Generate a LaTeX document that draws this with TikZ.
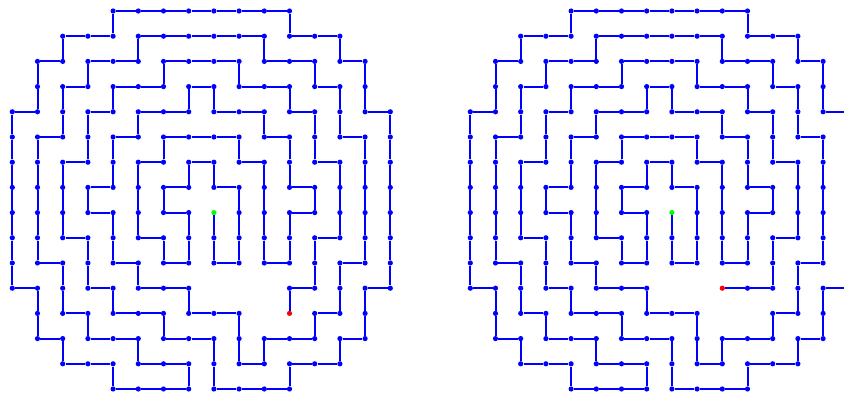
\documentclass[tikz,border=0pt]{standalone}
\begin{document}
\begin{tikzpicture}[x=1pt,y=-1pt,
  mdot/.style={circle,fill=blue,inner sep=0pt,minimum size=5.2pt},
  mstart/.style={circle,fill=green,inner sep=0pt,minimum size=5.2pt},
  mend/.style={circle,fill=red,inner sep=0pt,minimum size=5.2pt},
  medge/.style={blue,line width=2pt}]
\useasboundingbox (0,0) rectangle (844,395);
\clip (0,0) rectangle (844,395);
\def\mazepath{8/9, 8/10, 9/10, 9/9, 9/8, 9/7, 8/7, 8/6, 7/6, 7/7, 6/7, 6/8, 7/8, 7/9, 7/10, 6/10, 6/9, 5/9, 5/8, 5/7, 5/6, 6/6, 6/5, 7/5, 8/5, 9/5, 9/6, 10/6, 10/7, 10/8, 10/9, 10/10, 11/10, 11/9, 11/8, 12/8, 12/7, 11/7, 11/6, 11/5, 10/5, 10/4, 9/4, 8/4, 8/3, 7/3, 7/4, 6/4, 5/4, 5/5, 4/5, 4/6, 4/7, 3/7, 3/8, 4/8, 4/9, 4/10, 5/10, 5/11, 6/11, 7/11, 7/12, 8/12, 9/12, 9/13, 9/14, 10/14, 10/13, 11/13, 12/13, 12/12, 13/12, 13/11, 13/10, 14/10, 14/9, 14/8, 14/7, 14/6, 14/5, 13/5, 13/4, 13/3, 12/3, 12/2, 11/2, 10/2, 10/1, 9/1, 8/1, 7/1, 6/1, 5/1, 5/2, 4/2, 3/2, 3/3, 2/3, 2/4, 2/5, 1/5, 1/6, 1/7, 1/8, 1/9, 1/10, 2/10, 2/11, 2/12, 3/12, 3/13, 4/13, 5/13, 5/14, 6/14, 7/14, 7/15, 6/15, 5/15, 4/15, 4/14, 3/14, 2/14, 2/13, 1/13, 1/12, 1/11, 0/11, 0/10, 0/9, 0/8, 0/7, 0/6, 0/5, 0/4, 1/4, 1/3, 1/2, 2/2, 2/1, 3/1, 4/1, 4/0, 5/0, 6/0, 7/0, 8/0, 9/0, 10/0, 11/0, 11/1, 12/1, 13/1, 13/2, 14/2, 14/3, 14/4, 15/4, 15/5, 15/6, 15/7, 15/8, 15/9, 15/10, 15/11, 14/11, 14/12, 14/13, 13/13, 13/14, 12/14, 11/14, 11/15, 10/15, 9/15, 8/15, 8/14, 8/13, 7/13, 6/13, 6/12, 5/12, 4/12, 4/11, 3/11, 3/10, 3/9, 2/9, 2/8, 2/7, 2/6, 3/6, 3/5, 3/4, 4/4, 4/3, 5/3, 6/3, 6/2, 7/2, 8/2, 9/2, 9/3, 10/3, 11/3, 11/4, 12/4, 12/5, 12/6, 13/6, 13/7, 13/8, 13/9, 12/9, 12/10, 12/11, 11/11}
\foreach \side/\ox/\ei/\ej in {L/12.3/11/12, R/470.3/10/11} {
  \node[mstart] (\side-8-8) at (\ox+25.2*8, 11+25.2*8) {};
  \foreach \i/\j [remember=\i as \pa (initially 8), remember=\j as \pb (initially 8)] in \mazepath {
    \node[mdot] (\side-\i-\j) at (\ox+25.2*\i, 11+25.2*\j) {};
    \draw[medge] (\side-\pa-\pb) -- (\side-\i-\j);
  }
  \node[mend] (\side-\ei-\ej) at (\ox+25.2*\ei, 11+25.2*\ej) {};
  \draw[medge] (\side-11-11) -- (\side-\ei-\ej);
}
\end{tikzpicture}
\end{document}
